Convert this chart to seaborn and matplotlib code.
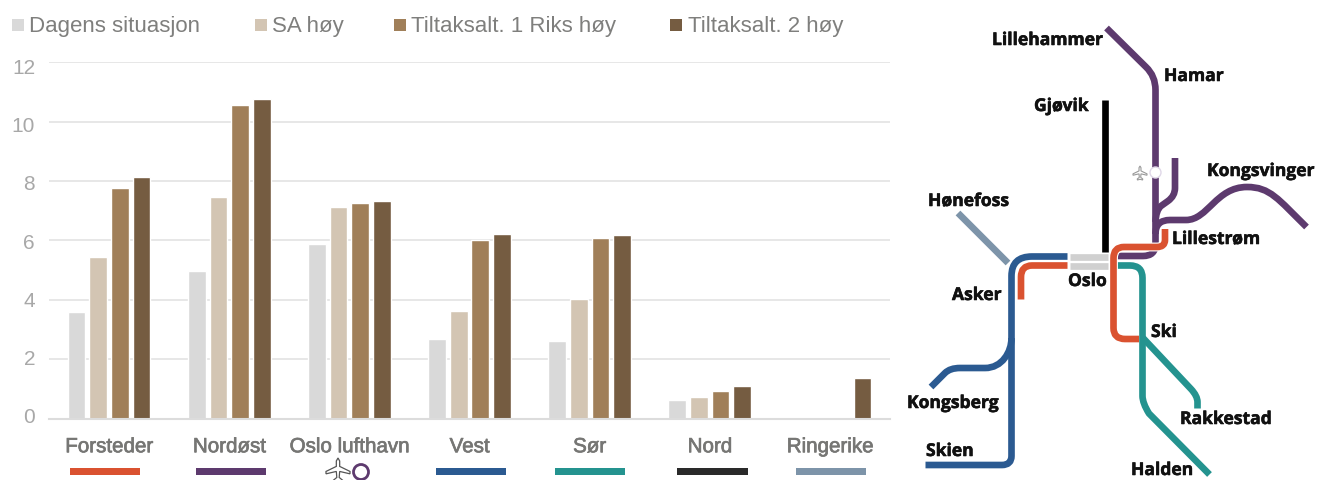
import numpy as np
import pandas as pd
import matplotlib
matplotlib.use('Agg')
import matplotlib.pyplot as plt
import matplotlib.patheffects as pe
import seaborn as sns
from matplotlib.path import Path
from matplotlib.patches import PathPatch, Rectangle, Circle, Polygon
from matplotlib.transforms import ScaledTranslation

# verdier lest av grafen
areas = ['Forsteder', 'Nordøst', 'Oslo lufthavn', 'Vest', 'Sør', 'Nord', 'Ringerike']
series = ['Dagens situasjon', 'SA høy', 'Tiltaksalt. 1 Riks høy', 'Tiltaksalt. 2 høy']
dagens = [3.58, 4.97, 5.87, 2.68, 2.6, 0.63, np.nan]
sa_hoy = [5.43, 7.47, 7.13, 3.63, 4.03, 0.73, np.nan]
tiltak1 = [7.78, 10.57, 7.27, 6.03, 6.08, 0.93, np.nan]
tiltak2 = [8.15, 10.77, 7.32, 6.2, 6.18, 1.08, 1.37]
y_ticks = [0, 2, 4, 6, 8, 10, 12]

bar_colors = ['#d9d9d9', '#d3c5b3', '#a07f59', '#755c41']
RED = '#da5230'
PURPLE = '#5d3a6e'
BLUE = '#2b5a91'
TEAL = '#24938f'
DARK = '#2a2a2a'
BLACK = '#000000'
STEEL = '#7d94a9'
LIGHT = '#d0d0d0'

# forklaring over grafen (x for rute, x for tekst)
legend_x = [(11.5, 29), (254.5, 272), (394, 411), (670, 688.5)]

# fargestreker under kategoriene (venstre, høyre)
area_bars = [(70, 140, RED), (195.5, 266, PURPLE), (436, 506, BLUE),
             (555, 625, TEAL), (677, 747.5, DARK), (796, 866, STEEL)]

# linjekart, piksler. 2 tall = linje, 4 = kvadratisk kurve, 6 = kubisk kurve
map_lines = [
    (STEEL, [(958, 213), (1008, 263)]),
    (BLACK, [(1105, 100), (1105, 252)]),
    (PURPLE, [(1106.5, 28), (1146, 67), (1155.5, 76, 1155.5, 90), (1155.5, 244),
              (1155.5, 256, 1143, 256), (1117, 256)]),
    (PURPLE, [(1175, 158), (1175, 188), (1175, 196, 1168, 201), (1161, 206),
              (1156, 210, 1155.5, 222)]),
    (PURPLE, [(1155.5, 234), (1155.5, 220, 1170, 220), (1186, 220),
              (1208, 220, 1216, 187, 1247, 187), (1270, 187, 1278, 199, 1306.5, 227)]),
    (BLUE, [(1067.5, 256.5), (1032, 256.5), (1011.5, 256.5, 1011.5, 276), (1011.5, 456),
            (1011.5, 465, 1002, 465), (925.5, 465)]),
    (BLUE, [(931, 387), (945, 373), (950, 368, 960, 368), (985, 368),
            (1002, 368, 1011.5, 352, 1011.5, 338)]),
    (TEAL, [(1117, 265.5), (1130, 265.5), (1142.5, 265.5, 1142.5, 278), (1142.5, 396),
            (1142.5, 403, 1149, 413.5), (1209.5, 474.5)]),
    (TEAL, [(1143, 338), (1191, 389), (1197.5, 396, 1197.5, 402), (1197.5, 408.5)]),
    (LIGHT, [(1070, 256.5), (1108, 256.5)]),
    (LIGHT, [(1070, 265.5), (1108, 265.5)]),
    (RED, [(1067.5, 265.5), (1032, 265.5), (1021, 265.5, 1021, 277), (1021, 299.5)]),
    (RED, [(1165, 229), (1165, 240), (1165, 247, 1157, 247), (1124, 247),
           (1113.5, 247, 1113.5, 258), (1113.5, 328), (1113.5, 339, 1125, 339), (1139, 339)]),
]

map_labels = ['Lillehammer', 'Hamar', 'Gjøvik', 'Kongsvinger', 'Hønefoss', 'Lillestrøm',
              'Oslo', 'Asker', 'Ski', 'Kongsberg', 'Rakkestad', 'Skien', 'Halden']
map_label_x = [992, 1164, 1034, 1207, 928, 1172, 1068, 952, 1151, 907, 1180, 926, 1131]
map_label_y = [40, 76, 106, 171, 201, 239, 281, 295, 332, 403, 419, 451, 470]

plane_shape = [(0, -1), (0.14, -0.75), (0.14, -0.3), (1, 0.12), (1, 0.32), (0.14, 0.12),
               (0.1, 0.62), (0.38, 0.85), (0.38, 1), (0, 0.9), (-0.38, 1), (-0.38, 0.85),
               (-0.1, 0.62), (-0.14, 0.12), (-1, 0.32), (-1, 0.12), (-0.14, -0.3),
               (-0.14, -0.75)]


def make_path(points):
    verts = [points[0]]
    codes = [Path.MOVETO]
    for p in points[1:]:
        if len(p) == 2:
            verts.append(p)
            codes.append(Path.LINETO)
        elif len(p) == 4:
            verts += [p[:2], p[2:]]
            codes += [Path.CURVE3, Path.CURVE3]
        else:
            verts += [p[:2], p[2:4], p[4:]]
            codes += [Path.CURVE4, Path.CURVE4, Path.CURVE4]
    return Path(verts, codes)


def draw_plane(ax, cx, cy, size, color, lw):
    pts = [(cx + x * size, cy + y * size) for x, y in plane_shape]
    ax.add_patch(Polygon(pts, closed=True, facecolor='white', edgecolor=color, linewidth=lw))


df = pd.DataFrame({'area': areas, series[0]: dagens, series[1]: sa_hoy,
                   series[2]: tiltak1, series[3]: tiltak2})
long_df = df.melt(id_vars='area', var_name='serie', value_name='verdi')

sns.set_theme(style='white')
plt.rcParams['font.family'] = ['Liberation Sans', 'DejaVu Sans']

W, H = 1319, 480
fig = plt.figure(figsize=(W / 100, H / 100), dpi=100)
ax = fig.add_axes([49 / W, 1 - 418.5 / H, (890 - 49) / W, (418.5 - 62.3) / H])

sns.barplot(data=long_df, x='area', y='verdi', hue='serie', order=areas, hue_order=series,
            palette=bar_colors, width=0.72, gap=0.18, saturation=1, legend=False, ax=ax)
ax.set_ylim(0, 12)
ax.set_xlim(-0.5, 6.5)
ax.set_yticks(y_ticks)
ax.set_xlabel('')
ax.set_ylabel('')
ax.set_axisbelow(True)
ax.grid(axis='y', color='#e3e3e3', linewidth=1.2)
sns.despine(ax=ax, left=True, top=True, right=True)
ax.spines['bottom'].set_color('#dcdcdc')
ax.spines['bottom'].set_linewidth(1.5)
ax.tick_params(axis='y', length=0, labelsize=15, labelcolor='#a8a8a8', pad=10)
ax.tick_params(axis='x', length=0, labelsize=14.8, labelcolor='#767674', pad=13.5)

# tallene på y-aksen står ikke helt på linjene i originalen
for v, lab in zip(y_ticks, ax.get_yticklabels()):
    dy = (-2.7 + 0.56 * v) / 100
    lab.set_transform(lab.get_transform() + ScaledTranslation(0, -dy, fig.dpi_scale_trans))
for lab in ax.get_xticklabels():
    lab.set_path_effects([pe.withStroke(linewidth=0.5, foreground='#767674')])

# overlegg i piksler for forklaring, streker og kart
ov = fig.add_axes([0, 0, 1, 1])
ov.set_xlim(0, W)
ov.set_ylim(H, 0)
ov.axis('off')
ov.patch.set_alpha(0)

for (box_x, text_x), name, color in zip(legend_x, series, bar_colors):
    ov.add_patch(Rectangle((box_x, 19), 12, 12, color=color, linewidth=0))
    ov.text(text_x, 26.5, name, fontsize=16, color='#7f7f7d', va='center', ha='left')

for x0, x1, color in area_bars:
    ov.add_patch(Rectangle((x0, 468), x1 - x0, 7, color=color, linewidth=0))

draw_plane(ov, 338, 470, 12, '#555555', 0.9)
ov.add_patch(Circle((361, 472), 7.5, facecolor='white', edgecolor=PURPLE, linewidth=2))

for color, points in map_lines:
    path = make_path(points)
    if color == RED:
        ov.add_patch(PathPatch(path, fill=False, edgecolor='white', linewidth=6.4, capstyle='butt'))
    ov.add_patch(PathPatch(path, fill=False, edgecolor=color, linewidth=4.8, capstyle='butt',
                           joinstyle='round'))

ov.add_patch(Circle((1155.5, 172.5), 5.5, facecolor='white', edgecolor='#e0d8e8', linewidth=1))
draw_plane(ov, 1140, 173, 7, '#999999', 0.8)

for name, x, y in zip(map_labels, map_label_x, map_label_y):
    ov.text(x, y, name, fontsize=12.6, fontweight='bold', color='#111111', va='center', ha='left',
            family=['Open Sans', 'DejaVu Sans'],
            path_effects=[pe.withStroke(linewidth=0.4, foreground='#111111')])

fig.savefig('out.png', dpi=100)
